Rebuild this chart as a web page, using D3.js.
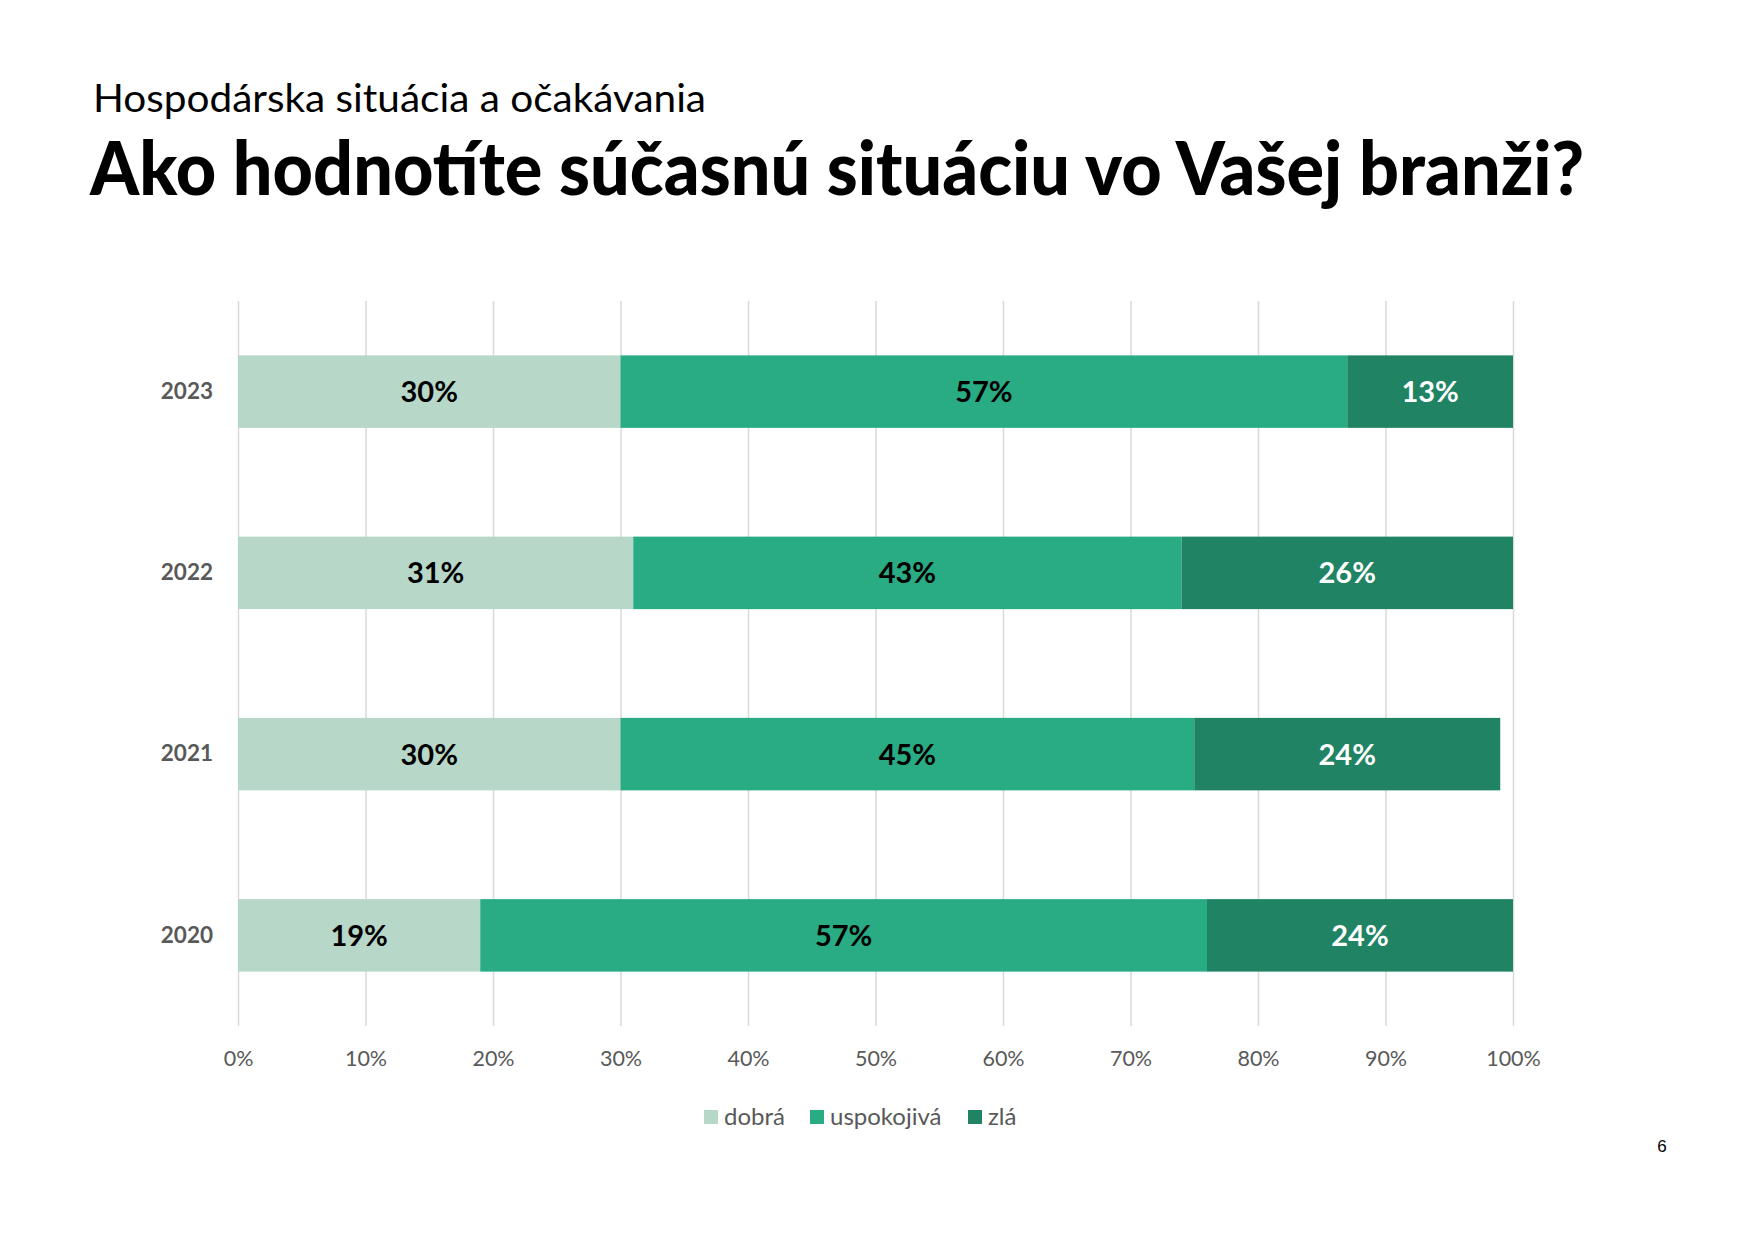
<!DOCTYPE html>
<html lang="sk">
  <head>
    <meta charset="UTF-8" />
    <title>Ako hodnotíte súčasnú situáciu vo Vašej branži?</title>
    <script src="https://d3js.org/d3.v7.min.js"></script>
    <style>
      * {
        margin: 0;
        padding: 0;
      }
      body {
        background: #ffffff;
      }
      svg text {
        font-family: Lato, "Noto Sans", sans-serif;
      }
    </style>
  </head>

  <body>
    <div id="chart"></div>
    <script>
      // data
      const years = ["2023", "2022", "2021", "2020"];
      const series = ["dobrá", "uspokojivá", "zlá"];
      const dobra = [30, 31, 30, 19];
      const uspokojiva = [57, 43, 45, 57];
      const zla = [13, 26, 24, 24];
      const xTicks = [0, 10, 20, 30, 40, 50, 60, 70, 80, 90, 100];

      const colors = ["#b7d7c8", "#29ab84", "#208464"];
      const labelColors = ["#000000", "#000000", "#ffffff"];

      const width = 1755;
      const height = 1240;

      const svg = d3
        .select("#chart")
        .append("svg")
        .attr("width", width)
        .attr("height", height);

      // headings
      svg
        .append("text")
        .attr("x", 93)
        .attr("y", 112)
        .attr("font-size", 38)
        .attr("font-weight", 400)
        .attr("fill", "#000")
        .attr("textLength", 613)
        .attr("lengthAdjust", "spacingAndGlyphs")
        .text("Hospodárska situácia a očakávania");

      svg
        .append("text")
        .attr("x", 90)
        .attr("y", 195)
        .attr("font-size", 74)
        .attr("font-weight", 900)
        .attr("fill", "#000")
        .attr("textLength", 1494)
        .attr("lengthAdjust", "spacingAndGlyphs")
        .text("Ako hodnotíte súčasnú situáciu vo Vašej branži?");

      // scales
      const x = d3.scaleLinear().domain([0, 100]).range([238, 1513]);
      const y = d3
        .scaleBand()
        .domain(years)
        .range([301, 1026])
        .paddingInner(0.6)
        .paddingOuter(0.3);

      // grid + x labels
      const gridAxis = d3
        .axisBottom(x)
        .tickValues(xTicks)
        .tickSize(-(1026 - 301))
        .tickPadding(25)
        .tickFormat((d) => d + "%");

      const gx = svg
        .append("g")
        .attr("transform", `translate(0, 1026)`)
        .call(gridAxis);
      gx.select(".domain").remove();
      gx.selectAll(".tick line")
        .attr("stroke", "#d9d9d9")
        .attr("stroke-width", 1.5);
      gx.selectAll(".tick text")
        .attr("font-size", 21.5)
        .attr("fill", "#595959");

      // stacked rows
      const rows = years.map((yr, i) => ({
        year: yr,
        values: [dobra[i], uspokojiva[i], zla[i]],
      }));
      const stack = d3
        .stack()
        .keys([0, 1, 2])
        .value((d, k) => d.values[k]);
      const stacked = stack(rows);

      const layers = svg
        .selectAll("g.layer")
        .data(stacked)
        .join("g")
        .attr("class", "layer")
        .attr("fill", (d, i) => colors[i]);

      layers
        .selectAll("rect")
        .data((d) => d)
        .join("rect")
        .attr("x", (d) => x(d[0]))
        .attr("y", (d) => y(d.data.year))
        .attr("width", (d) => x(d[1]) - x(d[0]))
        .attr("height", y.bandwidth());

      layers
        .selectAll("text")
        .data((d, i) => d.map((v) => ({ v: v, k: i })))
        .join("text")
        .attr("x", (d) => (x(d.v[0]) + x(d.v[1])) / 2)
        .attr("y", (d) => y(d.v.data.year) + y.bandwidth() / 2)
        .attr("dy", "0.36em")
        .attr("text-anchor", "middle")
        .attr("font-size", 29)
        .attr("font-weight", 700)
        .attr("fill", (d) => labelColors[d.k])
        .text((d) => d.v.data.values[d.k] + "%");

      // year labels
      const gy = svg
        .append("g")
        .attr("transform", `translate(238, 0)`)
        .call(d3.axisLeft(y).tickSize(0).tickPadding(25));
      gy.select(".domain").remove();
      gy.selectAll(".tick text")
        .attr("font-size", 22.5)
        .attr("font-weight", 700)
        .attr("fill", "#595959");

      // legend
      const legendX = [704, 810, 968];
      const legend = svg
        .append("g")
        .selectAll("g")
        .data(series)
        .join("g")
        .attr("transform", (d, i) => `translate(${legendX[i]}, 1117)`);
      legend
        .append("rect")
        .attr("x", 0)
        .attr("y", -7)
        .attr("width", 14)
        .attr("height", 14)
        .attr("fill", (d, i) => colors[i]);
      legend
        .append("text")
        .attr("x", 20)
        .attr("y", 0)
        .attr("dy", "0.35em")
        .attr("font-size", 24)
        .attr("fill", "#595959")
        .text((d) => d);

      // page number
      svg
        .append("text")
        .attr("x", 1662)
        .attr("y", 1152)
        .attr("text-anchor", "middle")
        .attr("font-size", 17)
        .style("font-family", "'Liberation Sans', Arial, sans-serif")
        .attr("fill", "#000")
        .text("6");
    </script>
  </body>
</html>
